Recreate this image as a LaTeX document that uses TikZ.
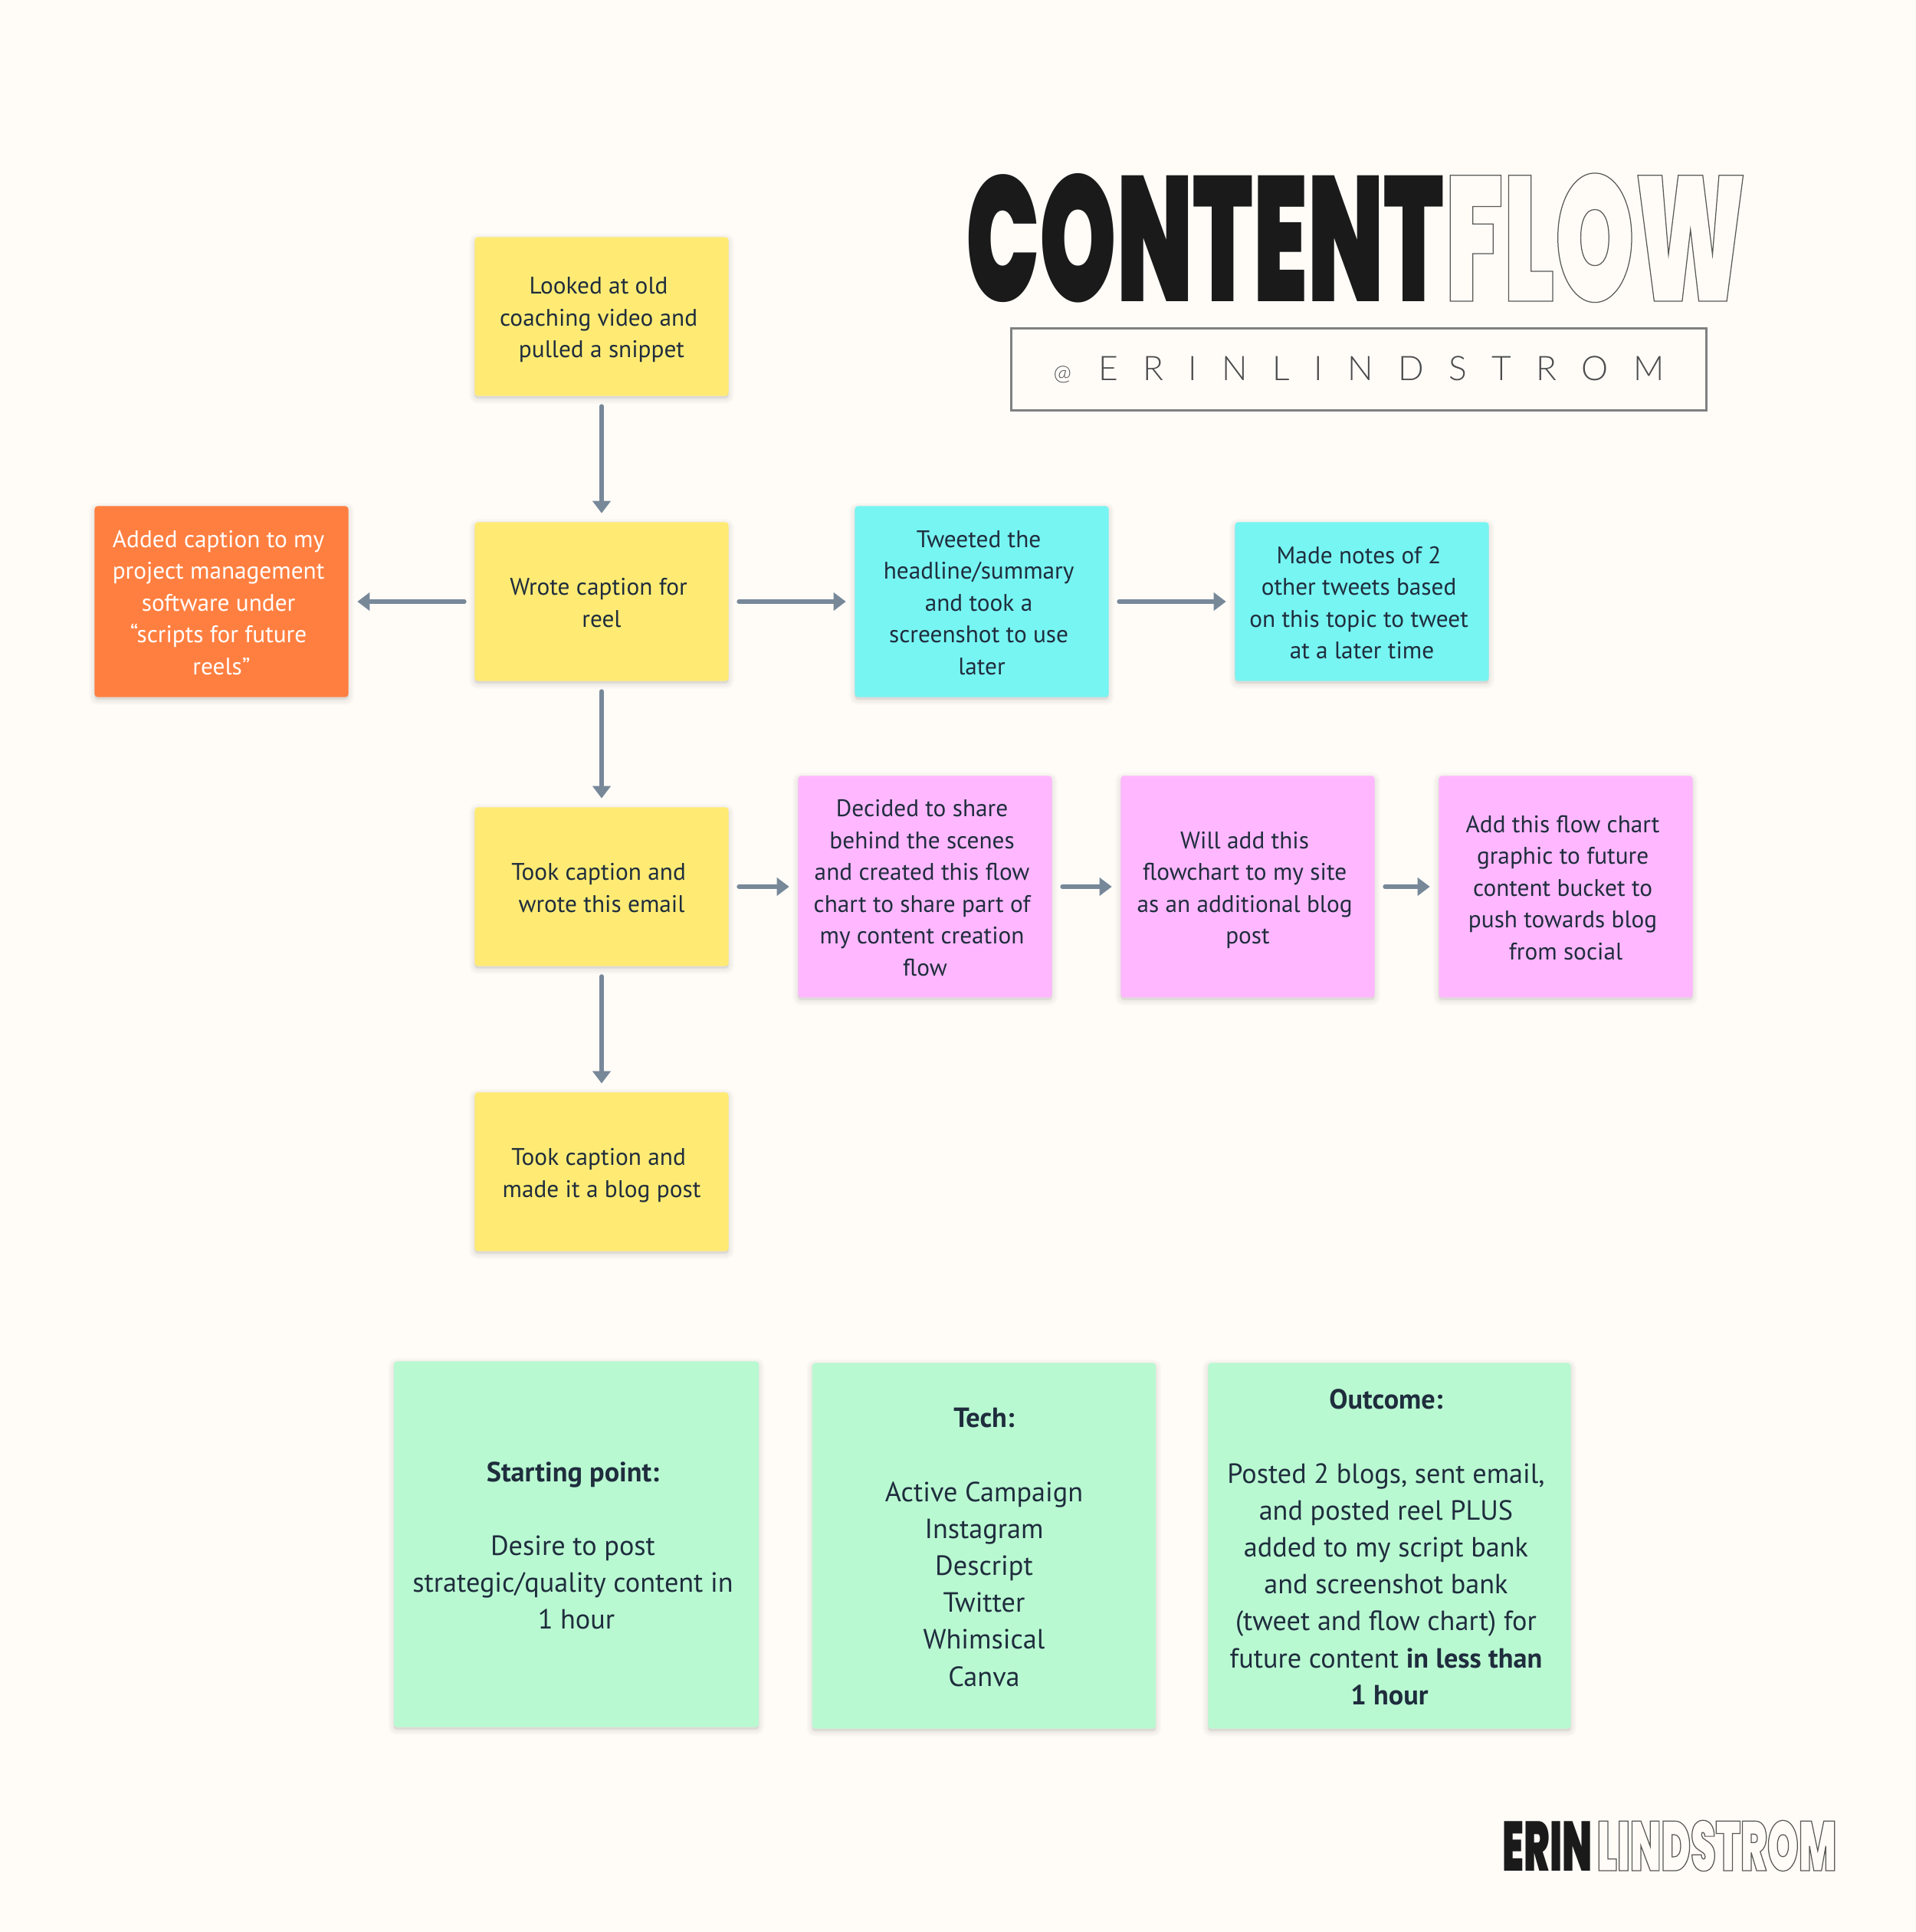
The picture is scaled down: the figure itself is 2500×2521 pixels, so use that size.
\documentclass[tikz,border=0pt]{standalone}
\usepackage{fontspec}
\usepackage{tikz}
\usetikzlibrary{arrows.meta,shadows}
\setmainfont{PT Sans}
\newfontfamily\titlefont[FakeStretch=0.55]{Poppins Black}
\newfontfamily\outlinefont[FakeStretch=0.57]{Poppins Black}
\newfontfamily\handlefont[LetterSpace=73]{Lato Light}
\definecolor{FlowPaper}{HTML}{FFFCF8}
\definecolor{FlowInk}{HTML}{1F2D3D}
\definecolor{FlowLine}{HTML}{778899}
\definecolor{FlowYellow}{HTML}{FFEB74}
\definecolor{FlowOrange}{HTML}{FF7F40}
\definecolor{FlowCyan}{HTML}{77F5F2}
\definecolor{FlowPink}{HTML}{FFB8FF}
\definecolor{FlowGreen}{HTML}{B9F9D2}
\definecolor{FlowBlack}{HTML}{1A1A1A}
\newcommand\tsp{\rule{0.25em}{0pt}}
\newcommand\outlined[1]{\special{pdf:code 1 Tr 0.35 w 0.35 0.35 0.33 RG}#1\special{pdf:code 0 Tr}}
\tikzset{
  softshadow/.style={drop shadow={shadow xshift=0cm,shadow yshift=-0.03cm,opacity=0.025,fill=black,draw=black,line width=#1}},
  notebox/.style={rounded corners=0.04cm,inner sep=0pt,align=center,text=FlowInk,minimum width=3.31cm,
    font=\fontsize{8.9}{11.8}\selectfont,
    softshadow=0.14cm,softshadow=0.09cm,softshadow=0.04cm},
  yellownote/.style={notebox,fill=FlowYellow,minimum height=2.07cm},
  orangenote/.style={notebox,fill=FlowOrange,text=white,minimum height=2.49cm},
  cyannote/.style={notebox,fill=FlowCyan,minimum height=2.07cm},
  pinknote/.style={notebox,fill=FlowPink,minimum height=2.89cm},
  greennote/.style={notebox,fill=FlowGreen,minimum height=4.77cm,
    font=\fontsize{10.3}{13.7}\selectfont},
  flowline/.style={draw=FlowLine,line width=0.06cm,line cap=round,shorten <=0.13cm,shorten >=0.11cm,
    -{Triangle[length=0.16cm,width=0.23cm]}},
  logotext/.style={inner sep=0pt,anchor=base west}
}
\begin{document}
\begin{tikzpicture}[x=0.01cm,y=-0.01cm]
  \def\note#1#2#3#4#5{
    \node[#1] (#2) at (#3,#4) {\rule{0pt}{0.9\baselineskip}#5\strut};
  }
  \useasboundingbox[fill=FlowPaper] (0,0) rectangle (2500,2521);
  % title
  \node[logotext,text=FlowBlack,font=\titlefont\fontsize{66}{66}\selectfont] (content) at (1260,393) {CONTENT};
  \node[logotext,font=\outlinefont\fontsize{66}{66}\selectfont] (flow) at (1885,393) {\outlined{FLOW}};
  \node[draw=black!50,line width=0.03cm,minimum width=9.07cm,minimum height=1.06cm,inner sep=0pt,text=black!70,
    font=\handlefont\fontsize{12.6}{12.6}\selectfont] (handle) at (1773,482) {{\fontsize{8}{8}\selectfont @}\hspace{0.35cm}ERINLINDSTROM\hspace{0.1cm}};
  % flow
  \note{yellownote}{snippet}{785}{413}{Looked at old\tsp\\coaching video and\tsp\\pulled a snippet}
  \note{yellownote}{wrote}{785}{785}{Wrote caption for\tsp\\reel}
  \note{yellownote}{email}{785}{1157}{Took caption and\tsp\\wrote this email}
  \note{yellownote}{blog}{785}{1529}{Took caption and\tsp\\made it a blog post}
  \note{orangenote}{scripts}{289}{785}{Added caption to my\tsp\\project management\tsp\\software under\tsp\\``scripts for future\tsp\\reels''}
  \note{cyannote,minimum height=2.49cm}{tweeted}{1281}{785}{Tweeted the\tsp\\headline/summary\tsp\\and took a\tsp\\screenshot to use\tsp\\later}
  \note{cyannote}{notes}{1777}{785}{Made notes of 2\tsp\\other tweets based\tsp\\on this topic to tweet\tsp\\at a later time}
  \note{pinknote}{shared}{1207}{1157}{Decided to share\tsp\\behind the scenes\tsp\\and created this flow\tsp\\chart to share part of\tsp\\my content creation\tsp\\flow}
  \note{pinknote}{flowchart}{1628}{1157}{Will add this\tsp\\flowchart to my site\tsp\\as an additional blog\tsp\\post}
  \note{pinknote}{graphic}{2043}{1157}{Add this flow chart\tsp\\graphic to future\tsp\\content bucket to\tsp\\push towards blog\tsp\\from social}
  % summary
  \note{greennote,minimum width=4.76cm}{start}{752}{2015}{\textbf{Starting point:}\tsp\\[13.7pt]Desire to post\tsp\\strategic/quality content in\tsp\\1 hour}
  \note{greennote,minimum width=4.48cm}{tech}{1284}{2017}{\textbf{Tech:}\\[13.7pt]Active Campaign\\Instagram\\Descript\\Twitter\\Whimsical\\Canva}
  \note{greennote,minimum width=4.73cm}{outcome}{1813}{2017}{\textbf{Outcome:}\tsp\\[13.7pt]Posted 2 blogs, sent email,\tsp\\and posted reel PLUS\tsp\\added to my script bank\tsp\\and screenshot bank\tsp\\(tweet and flow chart) for\tsp\\future content \textbf{in less than}\tsp\\\textbf{1 hour}}
  % arrows
  \draw[flowline] (snippet.south) -- (wrote.north);
  \draw[flowline] (wrote.south) -- (email.north);
  \draw[flowline] (email.south) -- (blog.north);
  \draw[flowline] (wrote.west) -- (scripts.east);
  \draw[flowline] (wrote.east) -- (tweeted.west);
  \draw[flowline] (tweeted.east) -- (notes.west);
  \draw[flowline] (email.east) -- (shared.west);
  \draw[flowline] (shared.east) -- (flowchart.west);
  \draw[flowline] (flowchart.east) -- (graphic.west);
  % signature
  \node[logotext,text=FlowBlack,font=\titlefont\fontsize{26}{26}\selectfont] (erin) at (1960,2441) {ERIN};
  \node[logotext,font=\outlinefont\fontsize{26}{26}\selectfont] (lindstrom) at (2083,2441) {\outlined{LINDSTROM}};
\end{tikzpicture}
\end{document}
